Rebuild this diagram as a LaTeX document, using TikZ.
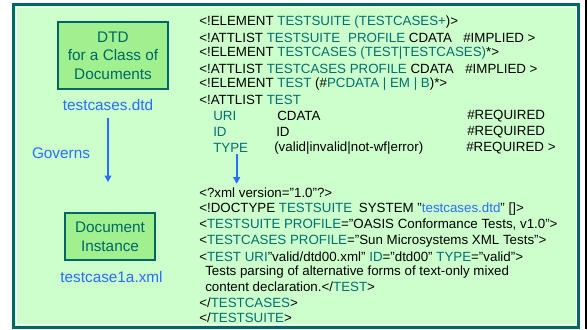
\documentclass[tikz,border=0pt]{standalone}
\usepackage{fontspec}
\setmainfont{Liberation Sans}
\usepackage{xcolor}
\usetikzlibrary{arrows.meta}
\definecolor{panelgreen}{RGB}{204,255,204}
\definecolor{boxgreen}{RGB}{160,240,144}
\definecolor{tealline}{RGB}{0,102,102}
\definecolor{keyteal}{RGB}{0,112,112}
\definecolor{linkblue}{RGB}{40,110,255}
\newcommand{\kw}[1]{\textcolor{keyteal}{#1}}
\newcommand{\lnk}[1]{\textcolor{linkblue}{#1}}

\begin{document}
\begin{tikzpicture}[x=0.75pt,y=0.75pt,yscale=-1,xscale=1,
  dtdline/.style={anchor=west,inner sep=0pt,font=\fontsize{10}{12}\selectfont},
  fname/.style={inner sep=0.75pt,text=linkblue,font=\fontsize{11.5}{13}\selectfont},
  greenbox/.style={draw=tealline,line width=1.5pt,fill=boxgreen,align=center,text=tealline,font=\fontsize{11.5}{14}\selectfont,inner sep=2pt},
  govarrow/.style={draw=linkblue,line width=1.5pt,-{Triangle[length=5pt,width=5pt]}}]
\useasboundingbox (0,0) rectangle (588,329);
% Panel
\draw [tealline,fill=panelgreen,line width=2.25pt] (13.5,4.5) rectangle (578.5,327);
\draw [white,line width=0.6pt] (16,7) rectangle (576,324.5);
% Slide edge
\draw [black,line width=2pt] (586,0) -- (586,329);
% Left side
\node [greenbox,minimum width=82pt,minimum height=50pt] (dtdbox) at (113,55.5) {DTD\\for a Class of\\Documents};
\node [fname] (dtdfile) at (108,105) {testcases.dtd};
\node [fname] (governs) at (61,153) {Governs};
\node [greenbox,minimum width=67pt,minimum height=35pt] (docbox) at (110,236.5) {Document\\Instance};
\node [fname] (xmlfile) at (111.5,277) {testcase1a.xml};
\draw [govarrow,shorten <=4.5pt,shorten >=22.5pt] (dtdfile.south) -- (dtdfile.south |- docbox.north);
% DTD text
\node [dtdline] (d1) at (199,22) {<!ELEMENT \kw{TESTSUITE (TESTCASES+})>};
\node [dtdline] (d2) at (199,37.5) {<!ATTLIST \kw{TESTSUITE}\hspace{0.6em}\kw{PROFILE} CDATA};
\node [dtdline] (d2b) at (463,37.5) {\#IMPLIED >};
\node [dtdline] (d3) at (199,53) {<!ELEMENT \kw{TESTCASES (TEST|TESTCASES)}*>};
\node [dtdline] (d4) at (199,68.5) {<!ATTLIST \kw{TESTCASES PROFILE} CDATA};
\node [dtdline] (d4b) at (465,68.5) {\#IMPLIED >};
\node [dtdline] (d5) at (199,84) {<!ELEMENT \kw{TEST} (\#\kw{PCDATA | EM | B})*>};
\node [dtdline] (d6) at (199,99.5) {<!ATTLIST \kw{TEST}};
\node [dtdline] (urikey) at (213,116) {\kw{URI}};
\node [dtdline] (uritype) at (277,116) {CDATA};
\node [dtdline] (urireq) at (467,116) {\#REQUIRED};
\node [dtdline] (idkey) at (213,132) {\kw{ID}};
\node [dtdline] (idtype) at (276,132) {ID};
\node [dtdline] (idreq) at (467,132) {\#REQUIRED};
\node [dtdline] (typekey) at (213,148) {\kw{TYPE}};
\node [dtdline] (typetype) at (274,148) {(valid|invalid|not-wf|error)};
\node [dtdline] (typereq) at (466,148) {\#REQUIRED >};
% XML text
\node [dtdline] (x1) at (199,193) {<?xml version="1.0"?>};
\node [dtdline] (x2) at (199,209) {<!DOCTYPE \kw{TESTSUITE}\hspace{0.5em}SYSTEM "\lnk{testcases.dtd}" []>};
\node [dtdline] (x3) at (199,225) {<\kw{TESTSUITE PROFILE}="OASIS Conformance Tests, v1.0">};
\node [dtdline] (x4) at (199,241) {<\kw{TESTCASES PROFILE}="Sun Microsystems XML Tests">};
\node [dtdline] (x5) at (199,257) {<\kw{TEST URI}"valid/dtd00.xml" \kw{ID}="dtd00" \kw{TYPE}="valid">};
\node [dtdline] (x6) at (205,272) {Tests parsing of alternative forms of text-only mixed};
\node [dtdline] (x7) at (205,287) {content declaration.</\kw{TEST}>};
\node [dtdline] (x8) at (199,303) {</\kw{TESTCASES}>};
\node [dtdline] (x9) at (199,318) {</\kw{TESTSUITE}>};
\draw [govarrow,shorten <=1pt,shorten >=3pt] ([xshift=4.5pt]typekey.south) -- ([xshift=4.5pt]typekey.south |- x1.north);
\end{tikzpicture}
\end{document}
